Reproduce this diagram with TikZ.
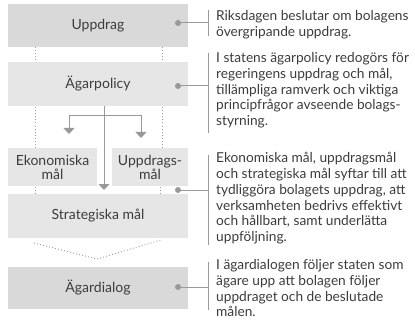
\documentclass[tikz,border=0pt]{standalone}
\usepackage{fontspec}
\setmainfont{Lato}
\usetikzlibrary{arrows.meta}
\definecolor{boxdark}{HTML}{D9D9D9}
\definecolor{boxlight}{HTML}{E6E6E6}
\definecolor{linegray}{HTML}{999999}
\definecolor{txt}{HTML}{3C3C3C}
\tikzset{
  box/.style={inner sep=0pt, text=txt, font=\fontsize{14}{15}\selectfont, align=center},
  dotline/.style={linegray, line width=0.9pt, dash pattern=on 0.9pt off 2.2pt},
  conn/.style={linegray, line width=1pt},
  arr/.style={conn, -{Triangle[width=11pt,length=6pt]}},
  brk/.style={linegray, line width=0.9pt},
  desc/.style={anchor=north west, inner sep=0pt, text=txt, align=left, font=\fontsize{13.7}{15.7}\selectfont},
  pin/.style={circle, fill=linegray, inner sep=0pt, minimum size=6pt}
}
\begin{document}
\begin{tikzpicture}[x=1pt,y=-1pt]
\useasboundingbox (0,0) rectangle (415,326);
% boxes
\fill[boxdark] (8,4) rectangle (188,47);
\node[box] (upp) at (98,25.5) {Uppdrag};
\fill[boxlight] (8,62) rectangle (188,106);
\node[box] (agp) at (98,84) {Ägarpolicy};
\fill[boxlight] (8,148) rectangle (97,186);
\node[box] (eko) at (52.5,167) {Ekonomiska\\[-1pt]mål};
\fill[boxlight] (112,148) rectangle (188,186);
\node[box] (uppm) at (150,167) {Uppdrags-\\[-1pt]mål};
\fill[boxlight] (8,194) rectangle (188,238);
\node[box] (str) at (98,216) {Strategiska mål};
\fill[boxdark] (8,267) rectangle (188,309);
\node[box] (dia) at (98,288) {Ägardialog};
% dotted guides
\draw[dotline] (35,47) -- (35,62);
\draw[dotline] (162,47) -- (162,62);
\draw[dotline] (35,107) -- (35,148);
\draw[dotline] (162,107) -- (162,148);
\draw[dotline] (35,187) -- (35,194);
\draw[dotline] (160,187) -- (160,194);
\coordinate (vl) at (34,243);
\coordinate (vb) at (97,259);
\coordinate (vr) at (161,240);
\draw[dotline] (vl) -- (vb) -- (vr);
% arrows
\coordinate (ctop) at (104,106);
\coordinate (cbot) at (104,190);
\coordinate (hl) at (69,115.5);
\coordinate (hr) at (141,115.5);
\draw[arr] (ctop) -- (cbot);
\draw[conn] (hl) -- (hr);
\coordinate (al) at (69,134);
\coordinate (ar) at (141,138);
\draw[arr] (hl) -- (al);
\draw[arr] (hr) -- (ar);
% pins and brackets
\node[pin] (p1) at (178,23) {};
\node[pin] (p2) at (178,86) {};
\node[pin] (p3) at (178,190) {};
\node[pin] (p4) at (178,287) {};
\coordinate (b1) at (208,23);
\coordinate (b2) at (208,86);
\coordinate (b3) at (208,190);
\coordinate (b4) at (208,287);
\draw[conn] (p1) -- (b1);
\draw[conn] (p2) -- (b2);
\draw[conn] (p3) -- (b3);
\draw[conn] (p4) -- (b4);
\draw[brk] (208,10) -- (208,36);
\draw[brk] (208,53) -- (208,133);
\draw[brk] (208,155) -- (208,245);
\draw[brk] (208,262) -- (208,310);
% descriptions
\node[desc] (t1) at (216,10.5) {Riksdagen beslutar om bolagens\\övergripande uppdrag.};
\node[desc] (t2) at (216,52.5) {I statens ägarpolicy redogörs för\\regeringens uppdrag och mål,\\tillämpliga ramverk och viktiga\\principfrågor avseende bolags-\\styrning.};
\node[desc] (t3) at (216,152.5) {Ekonomiska mål, uppdragsmål\\och strategiska mål syftar till att\\tydliggöra bolagets uppdrag, att\\verksamheten bedrivs effektivt\\och hållbart, samt underlätta\\uppföljning.};
\node[desc] (t4) at (216,259.5) {I ägardialogen följer staten som\\ägare upp att bolagen följer\\uppdraget och de beslutade\\målen.};
\end{tikzpicture}
\end{document}
